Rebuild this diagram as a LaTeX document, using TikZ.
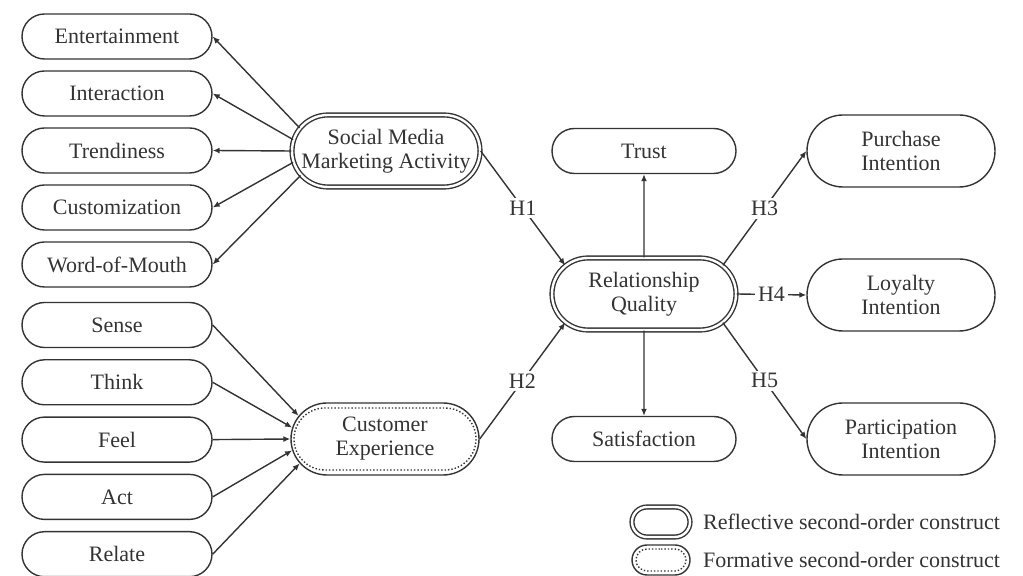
\documentclass[tikz,border=0pt]{standalone}
\usepackage{fontspec}
\setmainfont{Liberation Serif}
\usepackage{xcolor}
\usetikzlibrary{arrows.meta,shapes.misc,positioning}
\definecolor{trazo}{HTML}{333333}
\tikzset{
  caja/.style={rounded rectangle,draw=trazo,line width=0.7pt,minimum width=97pt,minimum height=22.5pt,inner sep=1pt,font=\fontsize{11}{12}\selectfont,text=trazo,align=center},
  grande/.style={caja,minimum width=96pt,minimum height=36pt},
  reflexivo/.style={grande,double=white,double distance=1.2pt},
  formativo/.style={grande},
  punteado/.style={rounded rectangle,draw=trazo,densely dotted,line width=0.7pt,minimum width=91pt,minimum height=31pt,inner sep=0pt},
  flecha/.style={-{Latex[length=3.5pt,width=3pt]},draw=trazo,line width=0.7pt},
  hip/.style={fill=white,inner sep=1.5pt,font=\fontsize{11}{12}\selectfont,text=trazo},
  leyenda/.style={inner sep=1pt,font=\fontsize{11}{12}\selectfont,text=trazo}
}

\begin{document}
\begin{tikzpicture}[x=0.5pt,y=-0.5pt]
\useasboundingbox (0,0) rectangle (1023,576);
% dimensiones de primer orden
\foreach \n/\t [count=\i from 0] in {ent/Entertainment,int/Interaction,tre/Trendiness,cus/Customization,wom/Word-of-Mouth}{\node[caja] (\n) at (117,36.5+57*\i) {\t};}
\foreach \n/\t [count=\i from 0] in {sen/Sense,thi/Think,fee/Feel,act/Act,rel/Relate}{\node[caja] (\n) at (117,325+57.3*\i) {\t};}
% constructos de segundo orden
\node[reflexivo] (smma) at (386,151) {Social Media\\Marketing Activity};
\node[formativo] (ce) at (385,439) {Customer\\Experience};
\node[punteado] at (ce) {};
\node[reflexivo,minimum width=94pt] (rq) at (644,294) {Relationship\\Quality};
\node[caja,minimum width=94pt] (tru) at (644,151) {Trust};
\node[caja,minimum width=94pt] (sat) at (644,439) {Satisfaction};
\node[grande] (pur) at (901,151) {Purchase\\Intention};
\node[grande] (loy) at (901,295) {Loyalty\\Intention};
\node[grande] (par) at (901,439) {Participation\\Intention};
% flechas
\foreach \n/\a in {ent/165,int/173,tre/180,cus/187,wom/196}{\draw[flecha] (smma.\a) -- (\n.east);}
\foreach \n/\a in {sen/165,thi/173,fee/180,act/187,rel/196}{\draw[flecha] (\n.east) -- (ce.\a);}
\draw[flecha] (smma.east) -- node[hip]{H1} (rq.160);
\draw[flecha] (ce.east) -- node[hip]{H2} (rq.200);
\draw[flecha] (rq) -- (tru);
\draw[flecha] (rq) -- (sat);
\draw[flecha] (rq.20) -- node[hip]{H3} (pur.west);
\draw[flecha] (rq.east) -- node[hip]{H4} (loy.west);
\draw[flecha] (rq.-20) -- node[hip]{H5} (par.west);
% leyenda
\node[reflexivo,minimum width=29pt,minimum height=15pt,inner sep=0pt] (lr) at (661,522) {};
\node[leyenda,right=5pt of lr] (tr) {Reflective second-order construct};
\node[formativo,minimum width=29pt,minimum height=15pt,inner sep=0pt] (lf) at (661,560) {};
\node[punteado,minimum width=25pt,minimum height=11pt] at (lf) {};
\node[leyenda,right=5pt of lf] (tf) {Formative second-order construct};
\end{tikzpicture}
\end{document}
